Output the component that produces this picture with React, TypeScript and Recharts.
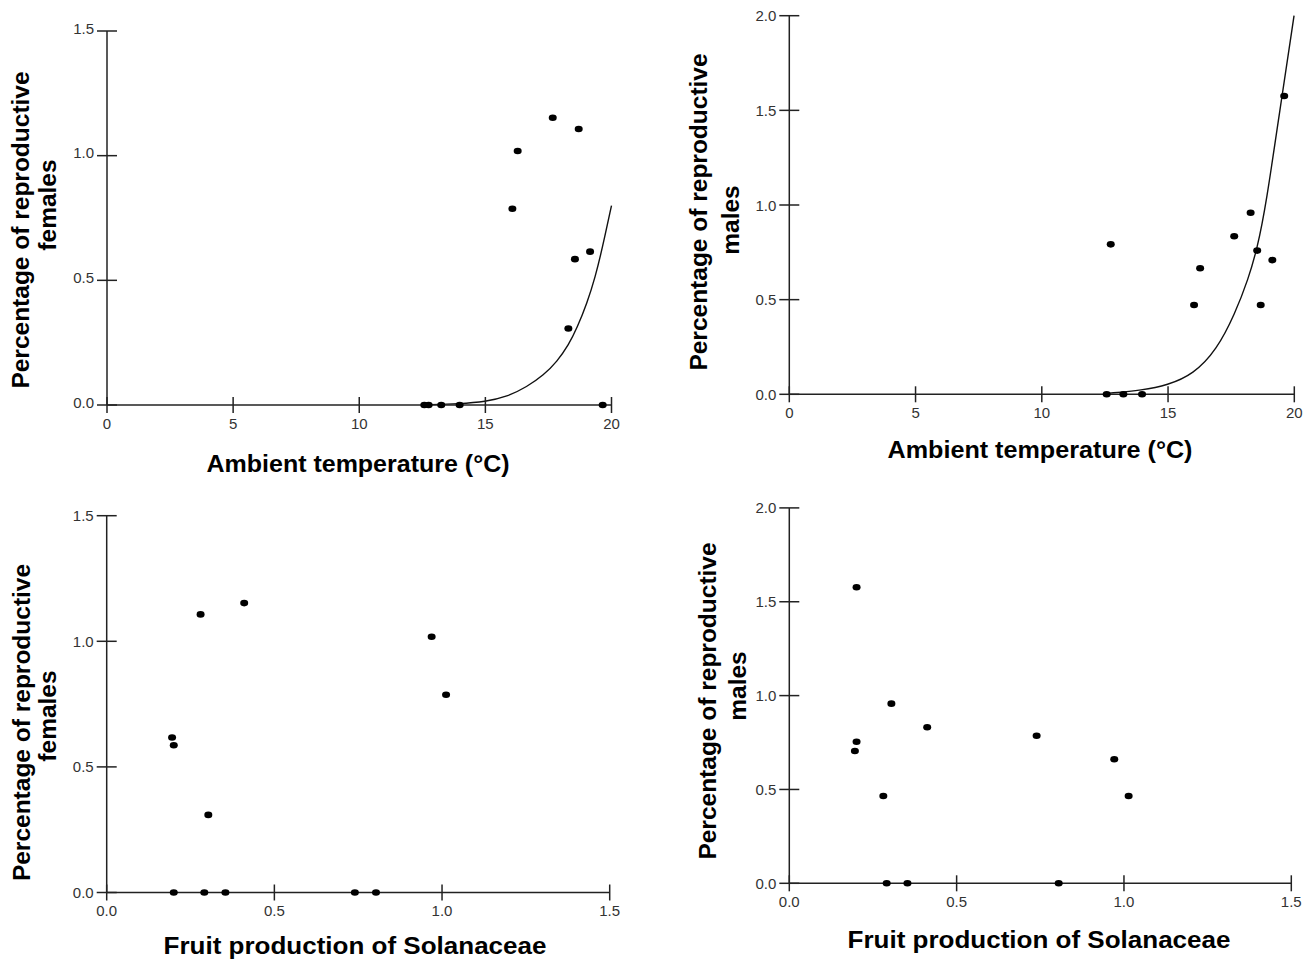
import React from 'react';
import { ComposedChart, Scatter, Line, XAxis, YAxis } from 'recharts';

// females vs ambient temperature
const tempF = [17.67, 18.7, 16.28, 16.07, 19.15, 18.55, 18.29, 12.58, 12.75, 13.25, 13.98, 19.65];
const femTemp = [1.152, 1.107, 1.019, 0.787, 0.615, 0.585, 0.307, 0, 0, 0, 0, 0];
const fitTempF = [12.6, 14.0, 15.0, 15.86, 16.65, 17.31, 17.84, 18.3, 18.63, 19.03, 19.36, 19.62, 20.0];
const fitFem = [0.001, 0.005, 0.013, 0.033, 0.073, 0.12, 0.174, 0.241, 0.308, 0.408, 0.515, 0.622, 0.8];

// males vs ambient temperature
const tempM = [12.73, 16.27, 16.03, 17.62, 18.27, 18.53, 19.13, 18.67, 19.6, 12.57, 13.23, 13.97];
const maleTemp = [0.792, 0.666, 0.472, 0.835, 0.959, 0.759, 0.709, 0.472, 1.576, 0, 0, 0];
const fitTempM = [12.6, 14.0, 14.97, 16.0, 16.93, 17.65, 18.18, 18.53, 18.88, 19.46, 19.99];
const fitMale = [0.005, 0.022, 0.048, 0.105, 0.235, 0.425, 0.61, 0.77, 1.0, 1.53, 2.0];

// females vs fruit production
const fruitF = [0.28, 0.41, 0.969, 1.012, 0.195, 0.2, 0.303, 0.2, 0.291, 0.354, 0.74, 0.803];
const femFruit = [1.107, 1.152, 1.018, 0.787, 0.617, 0.586, 0.309, 0, 0, 0, 0, 0];

// males vs fruit production
const fruitM = [0.201, 0.305, 0.412, 0.739, 0.201, 0.196, 0.281, 0.971, 1.014, 0.291, 0.353, 0.805];
const maleFruit = [1.577, 0.957, 0.831, 0.786, 0.754, 0.705, 0.465, 0.661, 0.465, 0, 0, 0];

const tempTicks = [0, 5, 10, 15, 20];
const fruitTicks = [0, 0.5, 1.0, 1.5];
const femTicks = [0, 0.5, 1.0, 1.5];
const maleTicks = [0, 0.5, 1.0, 1.5, 2.0];

const zip = (xs: number[], ys: number[]) => xs.map((x, i) => ({ x, y: ys[i] }));

const FONT = '"Liberation Sans", Arial, sans-serif';
const AX = '#222';
const XT = 8, XM = 5, YT = 10, YM = 2, YW = 60, XH = 40;

const dot = (p: any) => <ellipse cx={p.cx} cy={p.cy} rx={4} ry={3.3} fill="#000" />;

const fmt1 = (v: number) => v.toFixed(1);
const fmt0 = (v: number) => String(v);

const XTick = (p: any, f: (v: number) => string) => {
  const ay = p.y - XT - XM;
  return (
    <g>
      <line x1={p.x} x2={p.x} y1={ay - XT} y2={ay + XT} stroke={AX} strokeWidth={1.5} />
      <text x={p.x} y={p.y} dy="0.71em" textAnchor="middle" fontFamily={FONT} fontSize={15} fill="#333">
        {f(p.payload.value)}
      </text>
    </g>
  );
};

const YTick = (p: any, dy: number) => {
  const ax = p.x + YM + YT;
  return (
    <g>
      <line x1={ax - YT} x2={ax + YT} y1={p.y} y2={p.y} stroke={AX} strokeWidth={1.5} />
      <text x={p.x - 1} y={p.y + 5.5 + dy} textAnchor="end" fontFamily={FONT} fontSize={15} fill="#333">
        {fmt1(p.payload.value)}
      </text>
    </g>
  );
};

type PanelProps = {
  box: { x: number; y: number; w: number; h: number };
  plot: { l: number; t: number; r: number; b: number };
  pts: { x: number; y: number }[];
  fit?: { x: number; y: number }[];
  xDomain: number[];
  yDomain: number[];
  xTicks: number[];
  yTicks: number[];
  xFmt: (v: number) => string;
  yDy: number;
  xTitle: string;
  xPos: { cx: number; by: number; len: number };
  yTitle: string[];
  yPos: { bx: number; cy: number }[];
};

const Panel = (pp: PanelProps) => {
  const { box, plot } = pp;
  const margin = {
    left: plot.l - box.x - YW,
    top: plot.t - box.y,
    right: box.x + box.w - plot.r,
    bottom: box.y + box.h - plot.b - XH,
  };
  const titleStyle = { fontFamily: FONT, fontWeight: 700, fill: '#000' };
  return (
    <div style={{ position: 'absolute', left: box.x, top: box.y }}>
      <ComposedChart width={box.w} height={box.h} margin={margin}>
        <XAxis
          type="number"
          dataKey="x"
          domain={pp.xDomain}
          ticks={pp.xTicks}
          interval={0}
          height={XH}
          tickSize={XT}
          tickMargin={XM}
          tickLine={false}
          axisLine={{ stroke: AX, strokeWidth: 1.5 }}
          tick={(p: any) => XTick(p, pp.xFmt)}
          label={{
            content: () => (
              <text
                x={pp.xPos.cx - box.x}
                y={pp.xPos.by - box.y}
                textAnchor="middle"
                fontSize={23}
                textLength={pp.xPos.len}
                lengthAdjust="spacingAndGlyphs"
                {...titleStyle}
              >
                {pp.xTitle}
              </text>
            ),
          }}
        />
        <YAxis
          type="number"
          dataKey="y"
          domain={pp.yDomain}
          ticks={pp.yTicks}
          interval={0}
          width={YW}
          tickSize={YT}
          tickMargin={YM}
          tickLine={false}
          axisLine={{ stroke: AX, strokeWidth: 1.5 }}
          tick={(p: any) => YTick(p, pp.yDy)}
          label={{
            content: () => (
              <g>
                {pp.yTitle.map((t, i) => {
                  const bx = pp.yPos[i].bx - box.x;
                  const cy = pp.yPos[i].cy - box.y;
                  return (
                    <text
                      key={i}
                      x={bx}
                      y={cy}
                      textAnchor="middle"
                      fontSize={24.5}
                      transform={`rotate(-90 ${bx} ${cy})`}
                      {...titleStyle}
                    >
                      {t}
                    </text>
                  );
                })}
              </g>
            ),
          }}
        />
        {pp.fit && (
          <Line
            data={pp.fit}
            dataKey="y"
            type="basis"
            stroke="#111"
            strokeWidth={1.4}
            dot={false}
            activeDot={false}
            isAnimationActive={false}
          />
        )}
        <Scatter data={pp.pts} dataKey="y" shape={dot} isAnimationActive={false} />
      </ComposedChart>
    </div>
  );
};

export default function App() {
  return (
    <div style={{ position: 'absolute', left: 0, top: 0, width: 1310, height: 963, background: '#fff' }}>
      <Panel
        box={{ x: 0, y: 0, w: 655, h: 485 }}
        plot={{ l: 107, t: 31, r: 611.5, b: 405 }}
        pts={zip(tempF, femTemp)}
        fit={zip(fitTempF, fitFem)}
        xDomain={[0, 20]}
        yDomain={[0, 1.5]}
        xTicks={tempTicks}
        yTicks={femTicks}
        xFmt={fmt0}
        yDy={-3}
        xTitle="Ambient temperature (°C)"
        xPos={{ cx: 358, by: 472, len: 303 }}
        yTitle={['Percentage of reproductive', 'females']}
        yPos={[{ bx: 29, cy: 230 }, { bx: 56, cy: 205 }]}
      />
      <Panel
        box={{ x: 655, y: 0, w: 655, h: 485 }}
        plot={{ l: 789.3, t: 15.7, r: 1294.3, b: 394.3 }}
        pts={zip(tempM, maleTemp)}
        fit={zip(fitTempM, fitMale)}
        xDomain={[0, 20]}
        yDomain={[0, 2]}
        xTicks={tempTicks}
        yTicks={maleTicks}
        xFmt={fmt0}
        yDy={0}
        xTitle="Ambient temperature (°C)"
        xPos={{ cx: 1040, by: 458, len: 305 }}
        yTitle={['Percentage of reproductive', 'males']}
        yPos={[{ bx: 707, cy: 212 }, { bx: 739, cy: 220 }]}
      />
      <Panel
        box={{ x: 0, y: 485, w: 655, h: 478 }}
        plot={{ l: 106.7, t: 515.7, r: 609.7, b: 892.5 }}
        pts={zip(fruitF, femFruit)}
        xDomain={[0, 1.5]}
        yDomain={[0, 1.5]}
        xTicks={fruitTicks}
        yTicks={femTicks}
        xFmt={fmt1}
        yDy={0}
        xTitle="Fruit production of Solanaceae"
        xPos={{ cx: 355, by: 954, len: 383 }}
        yTitle={['Percentage of reproductive', 'females']}
        yPos={[{ bx: 30, cy: 722.5 }, { bx: 56, cy: 716 }]}
      />
      <Panel
        box={{ x: 655, y: 485, w: 655, h: 478 }}
        plot={{ l: 789.3, t: 507.9, r: 1291.3, b: 883.3 }}
        pts={zip(fruitM, maleFruit)}
        xDomain={[0, 1.5]}
        yDomain={[0, 2]}
        xTicks={fruitTicks}
        yTicks={maleTicks}
        xFmt={fmt1}
        yDy={0}
        xTitle="Fruit production of Solanaceae"
        xPos={{ cx: 1039, by: 948, len: 383 }}
        yTitle={['Percentage of reproductive', 'males']}
        yPos={[{ bx: 716, cy: 701 }, { bx: 746, cy: 686 }]}
      />
    </div>
  );
}
